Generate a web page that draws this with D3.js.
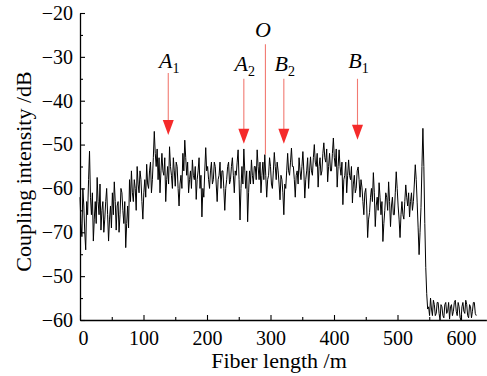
<!DOCTYPE html>
<html>
<head>
<meta charset="utf-8">
<script src="https://cdn.jsdelivr.net/npm/d3@7"></script>
<style>
  html, body { margin: 0; padding: 0; background: #fff; }
  svg { display: block; }
</style>
</head>
<body>
<svg id="chart" width="487" height="376"></svg>
<script>
// ---- data ----
const xTicks = [0, 100, 200, 300, 400, 500, 600];
const xMinorTicks = [50, 150, 250, 350, 450, 550];
const yTicks = [-20, -30, -40, -50, -60, -70, -80, -90];
const yTickLabels = ["\u221220", "\u221230", "\u221240", "\u221250", "\u221260", "\u221270", "\u221250", "\u221260"];
const yMinorTicks = [-25, -35, -45, -55, -65, -75, -85];
const xTitle = "Fiber length /m";
const yTitle = "Coupling intensity /dB";

// trace: [fiber length (m), coupling intensity (dB)]
const trace = [
  [0,-62],[1.5,-68],[3,-71],[4.5,-60],[6,-64],[7.5,-70],[9,-74],[10.5,-63],[12,-66],[13.5,-58],
  [15,-51.5],[16.5,-62],[18,-66],[19.5,-61],[21,-72],[22.5,-67],[24,-63],[25.5,-68],[27,-57.5],[28.5,-63],
  [30,-66],[31.5,-59],[33,-69.5],[34.5,-65],[36,-63],[37.5,-70],[39,-67],[40.5,-63],[42,-60],[43.5,-66],
  [45,-72],[46.5,-67],[48,-64],[49.5,-69],[51,-61],[52.5,-66],[54,-58.5],[55.5,-63],[57,-69.5],[58.5,-64],
  [60,-63],[61.5,-70],[63,-66],[64.5,-60],[66,-61],[67.5,-65],[69,-68],[70.5,-63],[72,-73.5],[73.5,-68],
  [75,-64],[76.5,-69],[78,-58],[79.5,-63],[81,-56],[82.5,-61],[84,-63],[85.5,-58],[87,-60],[88.5,-65],
  [90,-55],[91.5,-59],[93,-61],[94.5,-56],[96,-58],[97.5,-63],[99,-67],[100.5,-61],[102,-58],[103.5,-62],
  [105,-54.5],[106.5,-59],[108,-60],[109.5,-56],[111,-54],[112.5,-61],[114,-58],[115.5,-53],[117,-47],[118.5,-52],
  [120,-55],[121.5,-51],[123,-58],[124.5,-53],[126,-61],[127.5,-56],[129,-52],[130.5,-56],[132,-57],[133.5,-53],
  [135,-63],[136.5,-58],[138,-55],[139.5,-59],[141,-50.5],[142.5,-55],[144,-57],[145.5,-60],[147,-53],[148.5,-56],
  [150,-59.5],[151.5,-54],[153,-55],[154.5,-60],[156,-64],[157.5,-59],[159,-57],[160.5,-60],[162,-52],[163.5,-56],
  [165,-49],[166.5,-53],[168,-57],[169.5,-54],[171,-61],[172.5,-58],[174,-56],[175.5,-60],[177,-53.5],[178.5,-57],
  [180,-58],[181.5,-55],[183,-62.5],[184.5,-58],[186,-56],[187.5,-53],[189,-60],[190.5,-57],[192,-66.5],[193.5,-60],
  [195,-62],[196.5,-56],[198,-50.7],[199.5,-56],[201,-55],[202.5,-58],[204,-60],[205.5,-56],[207,-54],[208.5,-59],
  [210,-58],[211.5,-54],[213,-55],[214.5,-59],[216,-63],[217.5,-58],[219,-57],[220.5,-54],[222,-60],[223.5,-56],
  [225,-56],[226.5,-60],[228,-65],[229.5,-60],[231,-58],[232.5,-55],[234,-54],[235.5,-59],[237,-58],[238.5,-55],
  [240,-53],[241.5,-57],[243,-61],[244.5,-56],[246,-57],[247.5,-54],[249,-51.2],[250.5,-58],[252,-67.2],[253.5,-60],
  [255,-55],[256.5,-59],[258,-51],[259.5,-56],[261,-60],[262.5,-56],[264,-67.6],[265.5,-61],[267,-56],[268.5,-59],
  [270,-53.5],[271.5,-57],[273,-59],[274.5,-55],[276,-55],[277.5,-58],[279,-51.2],[280.5,-55],[282,-58],[283.5,-54],
  [285,-61],[286.5,-57],[288,-54],[289.5,-58],[291,-52.3],[292.5,-57],[294,-62],[295.5,-58],[297,-57],[298.5,-53],
  [300,-55],[301.5,-59],[303,-60],[304.5,-56],[306,-51.8],[307.5,-55],[309,-58],[310.5,-54],[312,-56],[313.5,-59],
  [315,-62.6],[316.5,-57],[318,-58],[319.5,-61],[321,-66],[322.5,-59],[324,-60],[325.5,-56],[327,-52],[328.5,-56],
  [330,-57],[331.5,-54],[333,-50.8],[334.5,-55],[336,-55],[337.5,-58],[339,-62],[340.5,-57],[342,-56],[343.5,-59],
  [345,-53],[346.5,-56],[348,-58],[349.5,-55],[351,-51.6],[352.5,-56],[354,-62.2],[355.5,-58],[357,-56],[358.5,-53],
  [360,-60],[361.5,-56],[363,-52.8],[364.5,-56],[366,-57],[367.5,-53],[369,-50],[370.5,-54],[372,-55],[373.5,-52],
  [375,-59.7],[376.5,-55],[378,-53],[379.5,-57],[381,-56],[382.5,-52],[384,-49.6],[385.5,-53],[387,-54],[388.5,-51],
  [390,-58.5],[391.5,-55],[393,-52],[394.5,-56],[396,-56],[397.5,-52],[399,-48.5],[400.5,-53],[402,-55],[403.5,-51],
  [405,-59.7],[406.5,-55],[408,-51.2],[409.5,-55],[411,-57],[412.5,-54],[414,-63.7],[415.5,-58],[417,-57],[418.5,-54],
  [420,-61],[421.5,-57],[423,-53.5],[424.5,-57],[426,-58],[427.5,-55],[429,-63.3],[430.5,-59],[432,-57],[433.5,-61],
  [435,-60],[436.5,-56],[438,-55.1],[439.5,-58],[441,-62],[442.5,-58],[444,-59.7],[445.5,-63],[447,-66],[448.5,-61],
  [450,-60],[451.5,-64],[453,-71.2],[454.5,-67],[456,-65.5],[457.5,-62],[459,-60],[460.5,-63],[462,-56.4],[463.5,-61],
  [465,-68.7],[466.5,-64],[468,-62],[469.5,-65],[471,-58.7],[472.5,-62],[474,-66],[475.5,-63],[477,-72.1],[478.5,-68],
  [480,-65],[481.5,-61],[483,-62],[484.5,-65],[486,-58.5],[487.5,-63],[489,-68.7],[490.5,-64],[492,-62],[493.5,-66],
  [495,-66],[496.5,-61],[498,-56.2],[499.5,-60],[501,-64],[502.5,-67],[504,-71.2],[505.5,-66],[507,-63],[508.5,-66],
  [510,-67],[511.5,-63],[513,-59.2],[514.5,-62],[516,-64],[517.5,-61],[519,-66.5],[520.5,-63],[522,-61],[523.5,-65],
  [525,-63],[526.5,-59],[528,-54.6],[529.5,-58],[531,-63.3],[532.5,-69],[534,-75.1],[535.5,-70],[537,-64.4],[538.5,-55],
  [540,-46.3],[541.5,-55],[543,-68],[544.5,-78],[546,-84],[547.5,-87.5],[549,-87],[550.5,-89],[552,-85],[553.5,-87.5],
  [555,-89],[556.5,-85.5],[558,-86.5],[559.5,-89],[561,-88.5],[562.5,-86],[564,-86],[565.5,-88.5],[567,-90],[568.5,-86.5],
  [570,-87],[571.5,-89],[573,-89.5],[574.5,-86.5],[576,-86],[577.5,-88.5],[579,-88],[580.5,-86],[582,-89.8],[583.5,-87],
  [585,-86.5],[586.5,-89],[588,-88],[589.5,-86],[591,-85.5],[592.5,-88],[594,-89],[595.5,-86],[597,-87],[598.5,-89.5],
  [600,-90],[601.5,-87],[603,-86],[604.5,-88],[606,-88.5],[607.5,-85.5],[609,-86.5],[610.5,-89],[612,-89.5],[613.5,-86.5],
  [615,-87],[616.5,-89.5],[618,-88],[619.5,-86],[621,-86],[622.5,-88.5],[624,-89]
];

// arrow annotations: label, subscript, position (m), line top / tip (dB), label baseline (dB)
const arrows = [
  { label: "A", sub: "1", m: 139, top: -33.7, tip: -47.8, text: -32.5 },
  { label: "A", sub: "2", m: 258, top: -35.0, tip: -49.8, text: -33.2 },
  { label: "B", sub: "2", m: 321, top: -35.0, tip: -49.8, text: -33.2 },
  { label: "B", sub: "1", m: 437, top: -35.0, tip: -48.9, text: -32.5 }
];
const markerO = { label: "O", m: 292, top: -27.1, bottom: -52.3, text: -25.5 };

// ---- drawing ----
const svg = d3.select("#chart");
const fontFamily = "'Liberation Serif', 'Times New Roman', serif";

const x = d3.scaleLinear().domain([0, 640]).range([80, 486.4]);
const y = d3.scaleLinear().domain([-20, -90]).range([13, 320]);

// trace
const line = d3.line().x(d => x(d[0])).y(d => y(d[1]));
svg.append("path")
  .datum(trace)
  .attr("d", line)
  .attr("fill", "none")
  .attr("stroke", "#000")
  .attr("stroke-width", 1.0)
  .attr("stroke-linejoin", "round");

// annotations
const arrowColor = "#f52a2a";
const lineColor = "#f27a72";
const headW = 5.5, headH = 15;

const ag = svg.append("g");
arrows.forEach(a => {
  const ax = x(a.m);
  const tipY = y(a.tip);
  ag.append("line")
    .attr("x1", ax).attr("x2", ax)
    .attr("y1", y(a.top)).attr("y2", tipY - headH + 1)
    .attr("stroke", lineColor).attr("stroke-width", 1.1);
  ag.append("path")
    .attr("d", `M${ax - headW},${tipY - headH} L${ax + headW},${tipY - headH} L${ax},${tipY} Z`)
    .attr("fill", arrowColor);
  const t = ag.append("text")
    .attr("x", ax + 1).attr("y", y(a.text))
    .attr("text-anchor", "middle")
    .attr("font-family", fontFamily)
    .attr("fill", "#000");
  t.append("tspan").attr("font-style", "italic").attr("font-size", 22).text(a.label);
  t.append("tspan").attr("font-size", 14).attr("dy", 5).text(a.sub);
});

ag.append("line")
  .attr("x1", x(markerO.m)).attr("x2", x(markerO.m))
  .attr("y1", y(markerO.top)).attr("y2", y(markerO.bottom))
  .attr("stroke", lineColor).attr("stroke-width", 1.1);
ag.append("text")
  .attr("x", x(markerO.m) - 2.5).attr("y", y(markerO.text))
  .attr("text-anchor", "middle")
  .attr("font-family", fontFamily)
  .attr("font-style", "italic")
  .attr("font-size", 22)
  .text(markerO.label);

// axes
const xAxis = svg.append("g")
  .attr("transform", `translate(0,${y(-90)})`)
  .call(d3.axisBottom(x).tickValues(xTicks).tickSizeInner(-5).tickSizeOuter(0).tickPadding(11).tickFormat(d3.format("d")));
xAxis.selectAll(".tick").filter(d => d === 0).select("text").attr("dx", 3);
svg.append("g")
  .attr("transform", `translate(0,${y(-90)})`)
  .call(d3.axisBottom(x).tickValues(xMinorTicks).tickSizeInner(-3).tickSizeOuter(0).tickFormat(""))
  .call(g => g.select(".domain").remove());

const yAxis = svg.append("g")
  .attr("transform", `translate(${x(0)},0)`)
  .call(d3.axisLeft(y).tickValues(yTicks).tickSizeInner(-5).tickSizeOuter(0).tickPadding(7)
    .tickFormat((d, i) => yTickLabels[i]));
svg.append("g")
  .attr("transform", `translate(${x(0)},0)`)
  .call(d3.axisLeft(y).tickValues(yMinorTicks).tickSizeInner(-3).tickSizeOuter(0).tickFormat(""))
  .call(g => g.select(".domain").remove());

svg.selectAll(".domain").attr("stroke", "#000").attr("stroke-width", 1.3);
svg.selectAll(".tick line").attr("stroke", "#000").attr("stroke-width", 1.1);
svg.selectAll(".tick text")
  .attr("font-family", fontFamily)
  .attr("font-size", 20)
  .attr("fill", "#000");

// axis titles
svg.append("text")
  .attr("x", 279).attr("y", 368)
  .attr("text-anchor", "middle")
  .attr("font-family", fontFamily)
  .attr("font-size", 22)
  .text(xTitle);

svg.append("text")
  .attr("transform", `translate(31,${171.5}) rotate(-90)`)
  .attr("text-anchor", "middle")
  .attr("font-family", fontFamily)
  .attr("font-size", 22)
  .text(yTitle);
</script>
</body>
</html>
